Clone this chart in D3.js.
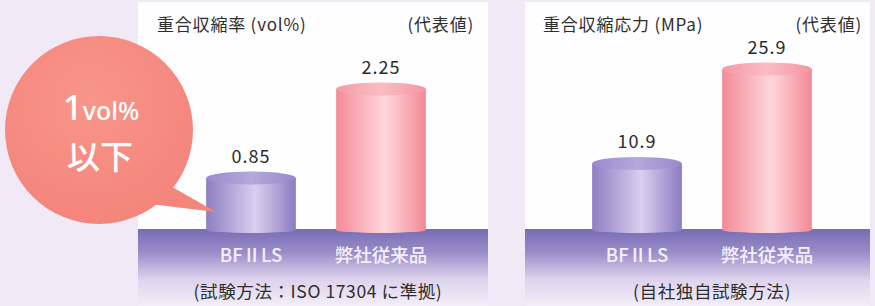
<!DOCTYPE html>
<html>
<head>
<meta charset="utf-8">
<script src="https://cdn.jsdelivr.net/npm/d3@7"></script>
<style>
  html, body { margin: 0; padding: 0; background: #f1eaf6; }
  svg { display: block; font-family: "Noto Sans CJK JP", "Noto Sans", sans-serif; }
</style>
</head>
<body>
<div class="chart"></div>
<script>
// data
const categories = ["BFⅡLS", "弊社従来品"];
const shrinkageValues = [0.85, 2.25];
const shrinkageLabels = ["0.85", "2.25"];
const stressValues = [10.9, 25.9];
const stressLabels = ["10.9", "25.9"];

const width = 875;
const height = 306;
const baseY = 232;

const svg = d3
  .select(".chart")
  .append("svg")
  .attr("width", width)
  .attr("height", height);

const defs = svg.append("defs");

// gradients for the cylinders and the floor
const addGradient = (id, stops, horizontal = true) => {
  const g = defs
    .append("linearGradient")
    .attr("id", id)
    .attr("x1", 0)
    .attr("y1", 0)
    .attr("x2", horizontal ? 1 : 0)
    .attr("y2", horizontal ? 0 : 1);
  stops.forEach(([o, c]) => g.append("stop").attr("offset", o).attr("stop-color", c));
};

addGradient("purpleBody", [[0, "#8e7fc3"], [0.55, "#d9cfef"], [1, "#8b7bc1"]]);
addGradient("purpleTop", [[0, "#9a8bcb"], [0.5, "#b5a8dc"], [1, "#988ac9"]]);
addGradient("pinkBody", [[0, "#f48b96"], [0.55, "#fdd6dd"], [1, "#f28994"]]);
addGradient("pinkTop", [[0, "#f59aa4"], [0.5, "#fbbcc3"], [1, "#f497a1"]]);
addGradient("floor", [[0, "#776db4"], [0.3, "#998cc8"], [0.65, "#ddd2ec"], [1, "#f3eef8"]], false);

const bubbleGrad = defs
  .append("radialGradient")
  .attr("id", "bubble")
  .attr("cx", "45%")
  .attr("cy", "35%")
  .attr("r", "65%");
bubbleGrad.append("stop").attr("offset", 0).attr("stop-color", "#f8958a");
bubbleGrad.append("stop").attr("offset", 1).attr("stop-color", "#f4857b");

const panels = [
  {
    title: "重合収縮率 (vol%)",
    caption: "(試験方法：ISO 17304 に準拠)",
    values: shrinkageValues,
    labels: shrinkageLabels,
    left: 138,
    right: 488,
    titleX: 157,
    noteX: 474,
    range: [186, 446],
    top: 89,
    captionX: 318,
  },
  {
    title: "重合収縮応力 (MPa)",
    caption: "(自社独自試験方法)",
    values: stressValues,
    labels: stressLabels,
    left: 525,
    right: 870,
    titleX: 543,
    noteX: 862,
    range: [572, 832],
    top: 69,
    captionX: 712,
  },
];

const drawPanel = (p) => {
  const g = svg.append("g");

  // white panel
  g.append("rect")
    .attr("x", p.left)
    .attr("y", 2)
    .attr("width", p.right - p.left)
    .attr("height", height - 2)
    .attr("fill", "#fefdff");

  // floor
  g.append("rect")
    .attr("x", p.left)
    .attr("y", 229)
    .attr("width", p.right - p.left)
    .attr("height", height - 229)
    .attr("fill", "url(#floor)");

  const x = d3
    .scaleBand()
    .domain(categories)
    .range(p.range)
    .paddingInner(0.31)
    .paddingOuter(0.155);

  const y = d3
    .scaleLinear()
    .domain([0, d3.max(p.values)])
    .range([baseY, p.top]);

  const rx = x.bandwidth() / 2;
  const ryTop = 6.5;
  const ryBottom = 3;
  const data = categories.map((c, i) => ({ cat: c, value: p.values[i], label: p.labels[i], i }));

  const bars = g.selectAll(".bar").data(data).enter().append("g").attr("class", "bar");

  // cylinder body
  bars
    .append("path")
    .attr("d", (d) => {
      const x0 = x(d.cat);
      const x1 = x0 + x.bandwidth();
      const yt = y(d.value);
      const yb = baseY - 2;
      return `M${x0},${yt} L${x0},${yb} A${rx},${ryBottom} 0 0 0 ${x1},${yb} L${x1},${yt} Z`;
    })
    .attr("fill", (d) => (d.i === 0 ? "url(#purpleBody)" : "url(#pinkBody)"));

  // cylinder top
  bars
    .append("ellipse")
    .attr("cx", (d) => x(d.cat) + rx)
    .attr("cy", (d) => y(d.value))
    .attr("rx", rx)
    .attr("ry", ryTop)
    .attr("fill", (d) => (d.i === 0 ? "url(#purpleTop)" : "url(#pinkTop)"));

  // value labels
  bars
    .append("text")
    .attr("x", (d) => x(d.cat) + rx)
    .attr("y", (d) => y(d.value) - 15)
    .attr("text-anchor", "middle")
    .attr("font-size", 18)
    .attr("letter-spacing", 1)
    .attr("fill", "#2b2b2b")
    .text((d) => d.label);

  // category labels
  bars
    .append("text")
    .attr("x", (d) => x(d.cat) + rx)
    .attr("y", 262)
    .attr("text-anchor", "middle")
    .attr("font-size", 18.5)
    .attr("font-weight", 500)
    .attr("fill", "#f4f0fa")
    .text((d) => d.cat);

  // titles
  g.append("text")
    .attr("x", p.titleX)
    .attr("y", 31)
    .attr("font-size", 17)
    .attr("letter-spacing", 0.8)
    .attr("fill", "#2e2e2e")
    .text(p.title);

  g.append("text")
    .attr("x", p.noteX)
    .attr("y", 31)
    .attr("text-anchor", "end")
    .attr("font-size", 17)
    .attr("letter-spacing", 0.8)
    .attr("fill", "#2e2e2e")
    .text("(代表値)");

  g.append("text")
    .attr("x", p.captionX)
    .attr("y", 298)
    .attr("text-anchor", "middle")
    .attr("font-size", 17.5)
    .attr("letter-spacing", 0.6)
    .attr("fill", "#2e2e2e")
    .text(p.caption);
};

panels.forEach(drawPanel);

// speech bubble
const bubble = svg.append("g");
bubble
  .append("path")
  .attr("d", "M160,180 L216,212 L150,204 Z")
  .attr("fill", "#f4857b");
bubble
  .append("circle")
  .attr("cx", 99)
  .attr("cy", 130)
  .attr("r", 94)
  .attr("fill", "url(#bubble)");

const t1 = bubble
  .append("text")
  .attr("x", 101)
  .attr("y", 120)
  .attr("text-anchor", "middle")
  .attr("fill", "#ffffff")
  .attr("font-family", "'Noto Sans', sans-serif");
t1.append("tspan").attr("font-size", 35).attr("font-weight", 500).text("1");
t1.append("tspan").attr("font-size", 25).attr("font-weight", 500).text("vol%");

bubble
  .append("text")
  .attr("x", 100)
  .attr("y", 169)
  .attr("text-anchor", "middle")
  .attr("fill", "#ffffff")
  .attr("font-size", 33)
  .attr("font-weight", 500)
  .text("以下");
</script>
</body>
</html>
